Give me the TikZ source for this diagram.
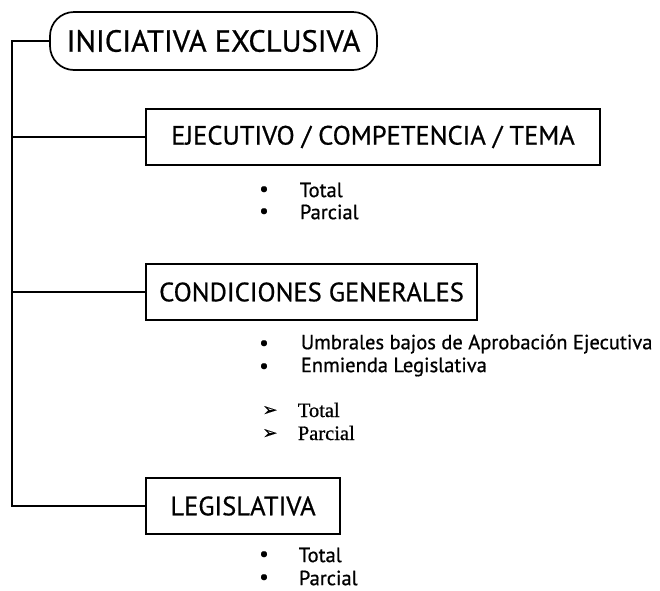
\documentclass[tikz,border=0pt]{standalone}
\usepackage{fontspec}
\setmainfont[FakeBold=0.7]{PT Sans}
\newfontfamily\symfont[FakeBold=0.5]{DejaVu Sans}
\newfontfamily\serfont[FakeBold=0.7]{Liberation Serif}
\begin{document}
\begin{tikzpicture}[x=1pt,y=-1pt,
  line width=1.7pt,
  headbox/.style={draw, rounded corners=24pt, minimum width=327pt, minimum height=58pt, inner sep=0pt, font=\fontsize{30.5}{33}\selectfont},
  catbox/.style={draw, minimum height=56pt, inner sep=0pt, font=\fontsize{26.5}{29}\selectfont},
  bul/.style={inner sep=0pt, anchor=center, font=\fontsize{21}{23}\selectfont},
  itm/.style={inner sep=0pt, anchor=west, font=\fontsize{20.5}{23}\selectfont},
  arr/.style={inner sep=0pt, anchor=center, font=\symfont\fontsize{18}{20}\selectfont},
  sitm/.style={inner sep=0pt, anchor=west, font=\serfont\fontsize{20.5}{23}\selectfont}
]
\useasboundingbox (0,0) rectangle (660,590);

\node[headbox] (ini) at (213.5,41) {INICIATIVA EXCLUSIVA};
\node[catbox, minimum width=454pt] (ejec) at (373,137) {EJECUTIVO / COMPETENCIA / TEMA};
\node[catbox, minimum width=331pt] (cond) at (311.5,292) {CONDICIONES GENERALES};
\node[catbox, minimum width=194pt] (leg) at (243,506) {LEGISLATIVA};

\coordinate (trunk) at (12,41);
\draw (ini.west) -- (trunk) |- (leg.west);
\draw (ejec.west) -- (ejec.west -| trunk);
\draw (cond.west) -- (cond.west -| trunk);

% Ejecutivo items
\node[bul] (b1) at (264,191) {•};
\node[itm] (t1) at (299,190) {Total};
\node[bul] (b2) at (264,213) {•};
\node[itm] (t2) at (299,212) {Parcial};

% Condiciones items
\node[bul] (b3) at (264,345) {•};
\node[itm] (t3) at (300,344) {Umbrales bajos de Aprobación Ejecutiva};
\node[bul] (b4) at (264,368) {•};
\node[itm] (t4) at (300,367) {Enmienda Legislativa};
\node[arr] (a1) at (270,411) {➢};
\node[sitm] (t5) at (297,410) {Total};
\node[arr] (a2) at (270,434) {➢};
\node[sitm] (t6) at (297,433) {Parcial};

% Legislativa items
\node[bul] (b5) at (264,556) {•};
\node[itm] (t7) at (298,555) {Total};
\node[bul] (b6) at (264,579) {•};
\node[itm] (t8) at (298,578) {Parcial};
\end{tikzpicture}
\end{document}
